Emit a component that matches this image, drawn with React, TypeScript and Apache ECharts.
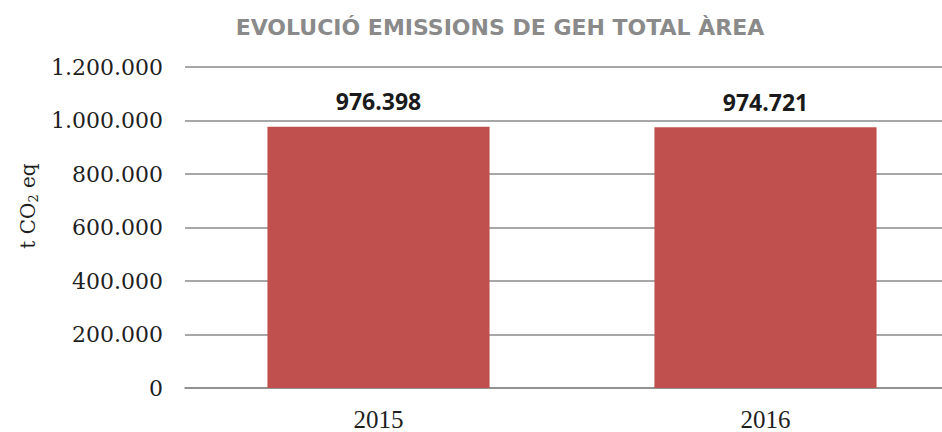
import React, { useEffect, useRef } from "react";
import * as echarts from "echarts";

const categories = ["2015", "2016"];
const emissions = [976398, 974721];
const yTicks = { min: 0, max: 1200000, interval: 200000 };
const titleText = "EVOLUCIÓ EMISSIONS DE GEH TOTAL ÀREA";

const fmt = (v: number) => {
  const s = Math.round(v).toString();
  return s.replace(/\B(?=(\d{3})+(?!\d))/g, ".");
};

export default function App() {
  const ref = useRef<HTMLDivElement>(null);
  useEffect(() => {
    if (!ref.current) return;
    const chart = echarts.init(ref.current, null, { renderer: "svg" });
    chart.setOption({
      animation: false,
      backgroundColor: "#ffffff",
      title: {
        text: titleText,
        left: 495,
        top: 11,
        textAlign: "center",
        textStyle: {
          fontFamily: "DejaVu Sans",
          fontWeight: "bold",
          fontSize: 22,
          color: "#8a8a8a",
        },
      },
      grid: {
        left: 185,
        width: 774,
        top: 67,
        height: 321,
        outerBoundsMode: "none",
        containLabel: false,
      },
      xAxis: {
        type: "category",
        data: categories,
        axisLine: { show: true, lineStyle: { color: "#8a8a8a", width: 1.5 } },
        axisTick: { show: false },
        axisLabel: {
          margin: 19,
          fontFamily: "Liberation Serif",
          fontSize: 25,
          lineHeight: 25,
          color: "#1f1f1f",
        },
      },
      yAxis: {
        type: "value",
        min: yTicks.min,
        max: yTicks.max,
        interval: yTicks.interval,
        axisLine: { show: false },
        axisTick: { show: false },
        splitLine: { show: true, lineStyle: { color: "#8a8a8a", width: 1.5 } },
        axisLabel: {
          margin: 22,
          fontFamily: "DejaVu Serif",
          fontSize: 22,
          color: "#1f1f1f",
          formatter: (v: number) => fmt(v),
        },
      },
      graphic: [
        {
          type: "text",
          x: 28,
          y: 206,
          rotation: Math.PI / 2,
          style: {
            text: "{a|t CO}{b|2}{a| eq}",
            align: "center",
            verticalAlign: "middle",
            rich: {
              a: { fontFamily: "DejaVu Serif", fontSize: 20, fill: "#1f1f1f" },
              b: {
                fontFamily: "DejaVu Serif",
                fontSize: 13,
                fill: "#1f1f1f",
                padding: [10, 0, 0, 0],
              },
            },
          },
        },
      ],
      series: [
        {
          type: "bar",
          data: emissions,
          barCategoryGap: "42.6%",
          itemStyle: { color: "#C0504D" },
          label: {
            show: true,
            position: "top",
            distance: 14,
            fontFamily: "Open Sans",
            fontWeight: "bold",
            fontSize: 23,
            color: "#1a1a1a",
            formatter: (p: any) => fmt(p.value),
          },
        },
      ],
    });
    return () => chart.dispose();
  }, []);
  return (
    <div
      ref={ref}
      style={{ position: "absolute", left: 0, top: 0, width: 942, height: 432 }}
    />
  );
}
